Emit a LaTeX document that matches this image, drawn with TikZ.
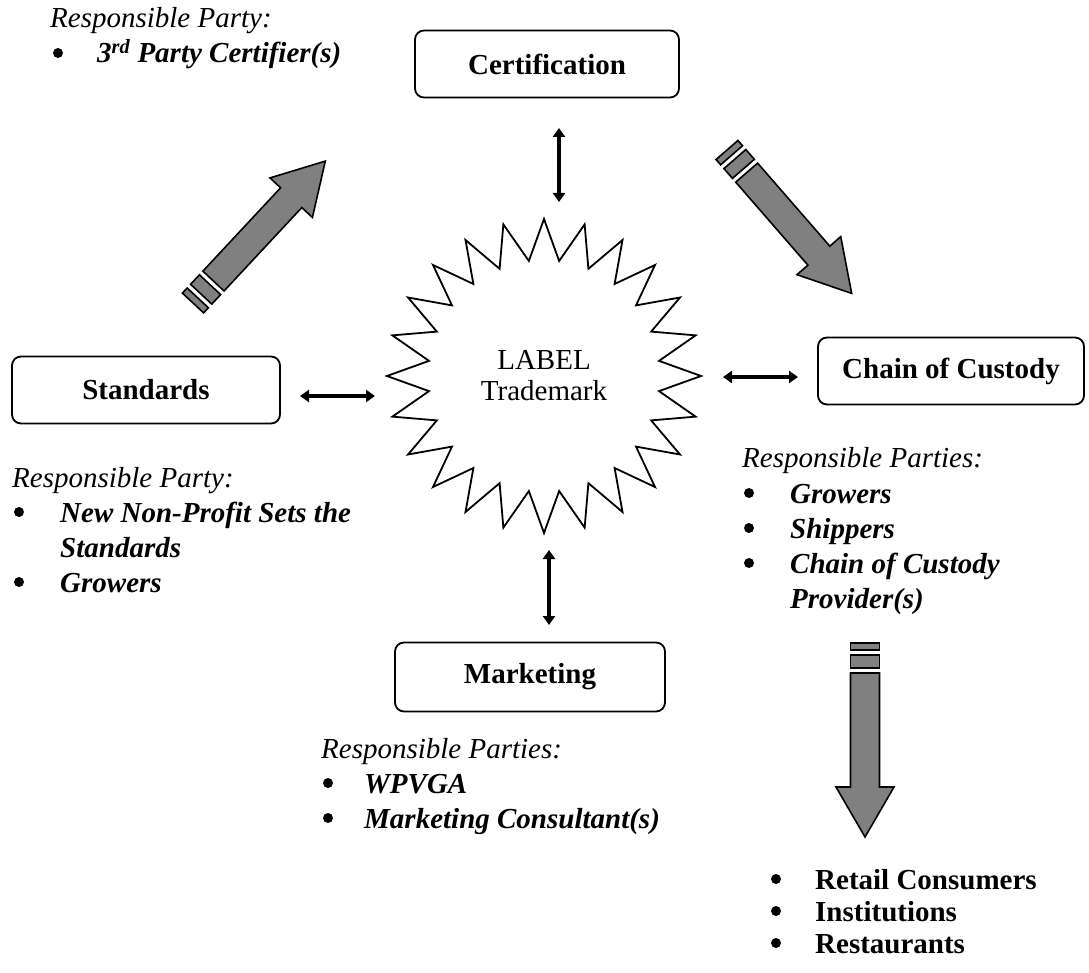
\documentclass[tikz,border=0pt]{standalone}
\usepackage{fontspec}
\setmainfont{Liberation Serif}
\usetikzlibrary{arrows.meta,shapes.geometric,calc}
\newcommand\fatarrow[3]{%
  \begin{scope}[shift={#1},rotate=#2]
    \filldraw[bigarrow] (0,-14.5) rectangle (7,14.5);
    \filldraw[bigarrow] (12,-14.5) rectangle (25,14.5);
    \filldraw[bigarrow] (30,-14.5) -- (#3,-14.5) -- (#3,-29) -- ($(#3,0)+(50,0)$) -- (#3,29) -- (#3,14.5) -- (30,14.5) -- cycle;
  \end{scope}}
\begin{document}
\begin{tikzpicture}[x=1pt,y=-1pt,
  box/.style={draw, line width=1.8pt, rounded corners=9pt, inner sep=0pt,
    font=\fontsize{29}{35}\selectfont\bfseries},
  txt/.style={anchor=base west, inner sep=0pt, font=\fontsize{29}{35}\selectfont},
  dot/.style={circle, fill=black, inner sep=0pt, minimum size=10pt},
  dbl/.style={{Triangle[length=9pt,width=12pt]}-{Triangle[length=9pt,width=12pt]}, line width=4pt},
  bigarrow/.style={fill=black!50, draw=black, line width=1.6pt, line join=miter}]
\useasboundingbox (0,0) rectangle (1089,973);

% boxes
\node[box, minimum width=264pt, minimum height=67pt] (cert) at (547,64) {Certification};
\node[box, minimum width=268pt, minimum height=67pt] (stand) at (146,390) {Standards};
\node[box, minimum width=266pt, minimum height=67pt] (chain) at (951,371) {Chain of Custody};
\node[box, minimum width=270pt, minimum height=69pt] (mkt) at (530,677) {Marketing};

% star
\begin{scope}[shift={(544,376)}]
\draw[line width=1.8pt, line join=miter]
  \foreach \i in {0,...,23} {
    \ifnum\i=0 (90:157) \else -- ({90+15*\i}:157) \fi -- ({97.5+15*\i}:116)
  } -- cycle;
\end{scope}
\node[font=\fontsize{29}{31}\selectfont, align=center, inner sep=0pt, circle, minimum size=230pt] (star) at (544,376) {LABEL\\Trademark};

% double arrows
\coordinate (a1) at (559,128); \coordinate (a2) at (559,202);
\coordinate (b1) at (300,396); \coordinate (b2) at (375,396);
\coordinate (c1) at (723,377); \coordinate (c2) at (798,377);
\coordinate (d1) at (549,550); \coordinate (d2) at (549,625);
\draw[dbl] (a1) -- (a2);
\draw[dbl] (b1) -- (b2);
\draw[dbl] (c1) -- (c2);
\draw[dbl] (d1) -- (d2);

% big arrows
\fatarrow{(193,303)}{47}{144}
\fatarrow{(727,150)}{-49}{140}
\fatarrow{(865,643)}{-90}{144}

% top-left text
\node[txt] (t0) at (50,28) {\itshape Responsible Party:};
\node[dot] (t1b) at (58,53) {};
\node[txt] (t1) at (97,63) {\bfseries\itshape 3\textsuperscript{rd} Party Certifier(s)};

% left text
\node[txt] (l0) at (12,487) {\itshape Responsible Party:};
\node[dot] (l1b) at (19,512) {};
\node[txt] (l1) at (60,522) {\bfseries\itshape New Non-Profit Sets the};
\node[txt] (l2) at (60,557) {\bfseries\itshape Standards};
\node[dot] (l3b) at (19,582) {};
\node[txt] (l3) at (60,592) {\bfseries\itshape Growers};

% right text
\node[txt] (r0) at (742,467) {\itshape Responsible Parties:};
\node[dot] (r1b) at (749,493) {};
\node[txt] (r1) at (790,503) {\bfseries\itshape Growers};
\node[dot] (r2b) at (749,528) {};
\node[txt] (r2) at (790,538) {\bfseries\itshape Shippers};
\node[dot] (r3b) at (749,563) {};
\node[txt] (r3) at (790,573) {\bfseries\itshape Chain of Custody};
\node[txt] (r4) at (790,608) {\bfseries\itshape Provider(s)};

% marketing text
\node[txt] (m0) at (321,758) {\itshape Responsible Parties:};
\node[dot] (m1b) at (328,783) {};
\node[txt] (m1) at (364,793) {\bfseries\itshape WPVGA};
\node[dot] (m2b) at (328,818) {};
\node[txt] (m2) at (364,828) {\bfseries\itshape Marketing Consultant(s)};

% bottom list
\node[dot] (e1b) at (776,879) {};
\node[txt] (e1) at (815,889) {\bfseries Retail Consumers};
\node[dot] (e2b) at (776,911) {};
\node[txt] (e2) at (815,921) {\bfseries Institutions};
\node[dot] (e3b) at (776,943) {};
\node[txt] (e3) at (815,953) {\bfseries Restaurants};
\end{tikzpicture}
\end{document}
